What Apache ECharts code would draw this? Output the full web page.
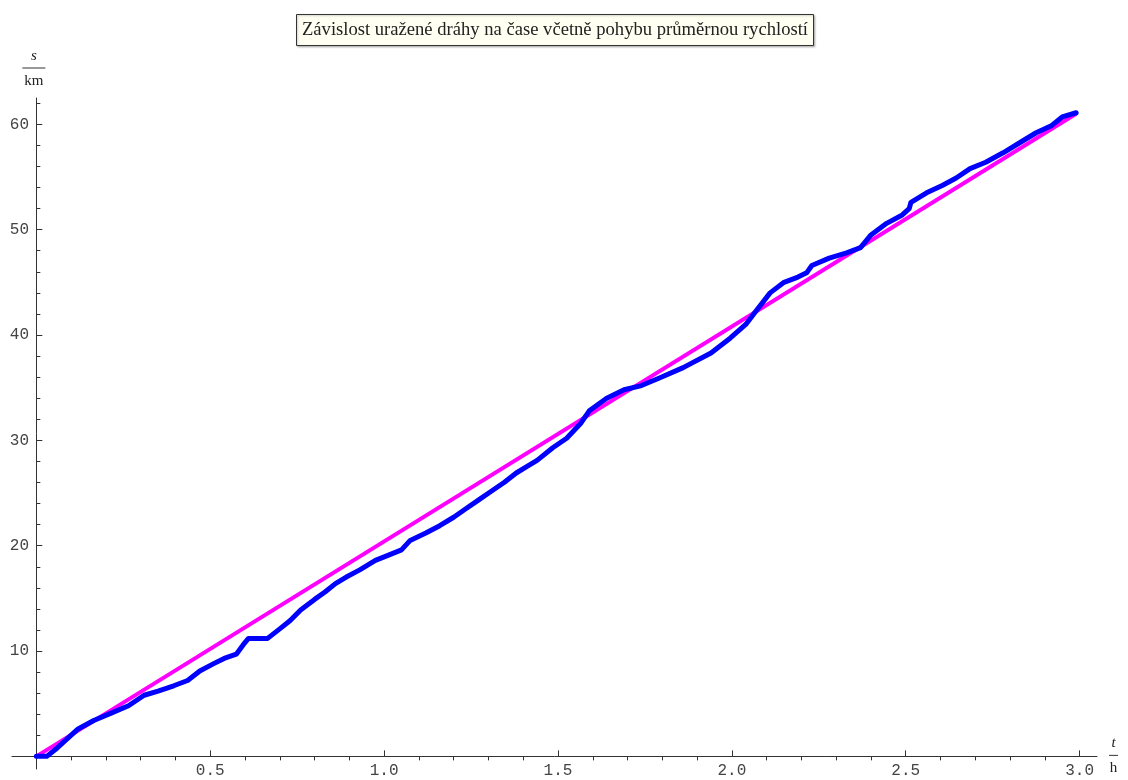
<!DOCTYPE html>
<html>
<head>
<meta charset="utf-8">
<script src="https://cdn.jsdelivr.net/npm/echarts@6/dist/echarts.min.js"></script>
<style>
html,body{margin:0;padding:0;background:#fff;}
#chart{width:1128px;height:780px;}
</style>
</head>
<body>
<div id="chart"></div>
<script>
// Measured path: time t [h]
const timeH = [0,0.03,0.06,0.09,0.12,0.165,0.215,0.265,0.31,0.35,0.395,0.435,0.47,0.51,0.54,0.575,0.595,0.61,0.665,0.70,0.73,0.76,0.80,0.83,0.86,0.89,0.93,0.975,1.02,1.05,1.075,1.12,1.16,1.20,1.235,1.27,1.305,1.345,1.38,1.41,1.44,1.485,1.525,1.565,1.59,1.64,1.69,1.74,1.79,1.86,1.94,1.995,2.04,2.07,2.11,2.15,2.19,2.215,2.23,2.28,2.33,2.37,2.40,2.445,2.49,2.51,2.515,2.56,2.605,2.645,2.685,2.73,2.78,2.83,2.875,2.92,2.95,2.99];
// distance s [km]
const distKm = [0,0,0.8,1.7,2.6,3.4,4.1,4.8,5.8,6.2,6.7,7.2,8.1,8.8,9.3,9.7,10.6,11.2,11.2,12.1,12.9,13.9,14.9,15.6,16.4,17.0,17.7,18.6,19.2,19.6,20.5,21.2,21.9,22.7,23.5,24.3,25.1,26.0,26.9,27.5,28.1,29.3,30.2,31.6,32.8,34.0,34.8,35.2,35.9,36.9,38.3,39.7,41.0,42.3,44.0,45.0,45.5,45.9,46.6,47.3,47.8,48.3,49.5,50.6,51.4,52.0,52.6,53.5,54.2,54.9,55.8,56.4,57.3,58.3,59.2,59.9,60.7,61.1];
// average-speed motion
const avgTimeH = [0, 2.99];
const avgDistKm = [0, 61.0];

// tick labels
const xMajorTicks = [0.5,1.0,1.5,2.0,2.5,3.0];
const xMinorTicks = [0.1,0.2,0.3,0.4,0.6,0.7,0.8,0.9,1.1,1.2,1.3,1.4,1.6,1.7,1.8,1.9,2.1,2.2,2.3,2.4,2.6,2.7,2.8,2.9];
const yMajorTicks = [10,20,30,40,50,60];
const yMinorTicks = [2,4,6,8,12,14,16,18,22,24,26,28,32,34,36,38,42,44,46,48,52,54,56,58,62];

const titleText = 'Závislost uražené dráhy na čase včetně pohybu průměrnou rychlostí';

const pathData = timeH.map((t,i)=>[t, distKm[i]]);
const avgData = avgTimeH.map((t,i)=>[t, avgDistKm[i]]);

const axisColor = '#333';
const monoFont = 'Liberation Mono';
const serifFont = 'Liberation Serif';

function fracRich(w){
  return {
    n:{fontFamily:serifFont, fontStyle:'italic', fontSize:15, color:'#222', align:'center', lineHeight:18},
    l:{width:w, height:1, backgroundColor:'#333', align:'center', lineHeight:6},
    d:{fontFamily:serifFont, fontSize:15, color:'#222', align:'center', lineHeight:20}
  };
}

const chart = echarts.init(document.getElementById('chart'));
chart.setOption({
  animation:false,
  backgroundColor:'#fff',
  title:{
    text:titleText,
    left:296, top:14,
    padding:[7,6,6,6],
    backgroundColor:'#fffff2',
    borderColor:'#333', borderWidth:1,
    shadowColor:'rgba(0,0,0,0.25)', shadowBlur:2, shadowOffsetX:1, shadowOffsetY:1,
    textStyle:{fontFamily:serifFont, fontSize:18.6, fontWeight:'normal', color:'#222'}
  },
  grid:{left:12, right:31, top:98, bottom:11, containLabel:false, outerBoundsMode:'none'},
  xAxis:[{
    type:'value', min:-0.07, max:3.05,
    axisLine:{show:true, onZero:true, lineStyle:{color:axisColor, width:1}},
    axisTick:{show:true, inside:true, length:6, customValues:xMajorTicks, lineStyle:{color:axisColor}},
    axisLabel:{show:true, customValues:xMajorTicks, margin:-6, fontFamily:monoFont, fontSize:16, color:'#444',
      formatter:v=>v.toFixed(1)},
    splitLine:{show:false},
    name:'{n|t}\n{l|}\n{d|h}', nameLocation:'end', nameGap:12,
    nameTextStyle:{rich:fracRich(9), align:'left', verticalAlign:'middle'}
  },{
    type:'value', min:-0.07, max:3.05,
    axisLine:{show:true, onZero:true, onZeroAxisIndex:0, lineStyle:{color:'rgba(0,0,0,0)', width:0}},
    axisTick:{show:true, inside:true, length:4, customValues:xMinorTicks, lineStyle:{color:axisColor}},
    axisLabel:{show:false},
    splitLine:{show:false}
  }],
  yAxis:[{
    type:'value', min:-1.2, max:62.5,
    axisLine:{show:true, onZero:true, lineStyle:{color:axisColor, width:1}},
    axisTick:{show:true, inside:true, length:6, customValues:yMajorTicks, lineStyle:{color:axisColor}},
    axisLabel:{show:true, customValues:yMajorTicks, margin:-17, fontFamily:monoFont, fontSize:16, color:'#444'},
    splitLine:{show:false},
    name:'{n|s}\n{l|}\n{d|km}', nameLocation:'end', nameGap:7,
    nameTextStyle:{rich:fracRich(23), align:'center', verticalAlign:'bottom', padding:[0,0,0,-5]}
  },{
    type:'value', min:-1.2, max:62.5, position:'left',
    axisLine:{show:true, onZero:true, onZeroAxisIndex:0, lineStyle:{color:'rgba(0,0,0,0)', width:0}},
    axisTick:{show:true, inside:true, length:4, customValues:yMinorTicks, lineStyle:{color:axisColor}},
    axisLabel:{show:false},
    splitLine:{show:false}
  }],
  series:[{
    name:'průměrná rychlost', type:'line', data:avgData, xAxisIndex:0, yAxisIndex:0,
    showSymbol:false, symbol:'none', lineStyle:{color:'#ff00ff', width:4}, z:2
  },{
    name:'dráha', type:'line', data:pathData, xAxisIndex:0, yAxisIndex:0,
    showSymbol:false, symbol:'none', lineStyle:{color:'#0000ff', width:5, join:'round', cap:'round'}, z:3
  }]
});
</script>
</body>
</html>
